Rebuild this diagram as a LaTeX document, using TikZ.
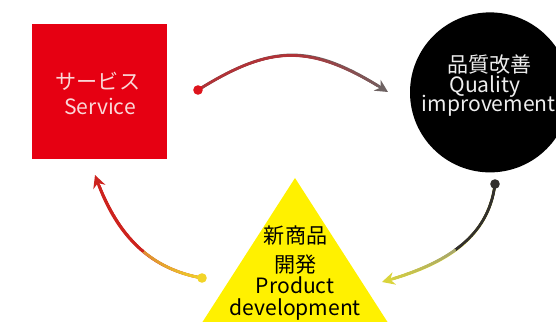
\documentclass[tikz,border=0pt]{standalone}
\usepackage{fontspec}
\setmainfont{Noto Sans CJK JP}
\usepackage{tikz}
\usetikzlibrary{arrows.meta,decorations.markings}
\definecolor{jpred}{RGB}{230,0,18}
\definecolor{jpyellow}{RGB}{255,241,0}
\definecolor{svctext}{RGB}{250,215,215}
\definecolor{qualtext}{RGB}{238,238,238}
\definecolor{arrred}{RGB}{222,20,28}
\definecolor{arrgray}{RGB}{110,98,98}
\definecolor{arrdark}{RGB}{50,48,45}
\definecolor{arrolive}{RGB}{165,165,110}
\definecolor{arrlime}{RGB}{218,212,60}
\definecolor{arryellow}{RGB}{242,212,40}
\definecolor{arrorange}{RGB}{222,140,50}
\definecolor{arrcrimson}{RGB}{205,35,30}
\tikzset{
  txt/.style={font=\fontsize{15}{18}\selectfont, inner sep=0pt},
  % line with colour running along it: start, mid-, mid+, end, split
  fade/.style n args={5}{line width=2pt, draw=#4, -{Stealth[length=9pt,width=9pt]},
    decoration={markings, mark=between positions 0 and 0.93 step 0.002 with {
      \pgfmathsetmacro\fadepos{(\pgfkeysvalueof{/pgf/decoration/mark info/sequence number}-1)*0.002}
      \ifdim\fadepos pt<#5pt
        \pgfmathsetmacro\fadepct{100-100*\fadepos/#5}\colorlet{fadecol}{#1!\fadepct!#2}
      \else
        \pgfmathsetmacro\fadepct{100-100*(\fadepos-#5)/(1-#5)}\colorlet{fadecol}{#3!\fadepct!#4}
      \fi
      \fill[fadecol] (0,0) circle (1pt);}},
    postaction=decorate}
}
\begin{document}
\begin{tikzpicture}
  \useasboundingbox (0,0) rectangle (13.9,8.05);
  \clip (0,0) rectangle (13.9,8.05);
  % shapes
  \node[fill=jpred, minimum size=3.375cm, inner sep=0pt] (svc) at (2.475,5.76) {};
  \node[circle, fill=black, minimum size=4cm, inner sep=0pt] (qual) at (12.25,5.74) {};
  \fill[jpyellow] (7.375,3.6) -- (10.33,-1) -- (4.42,-1) -- cycle;
  % labels
  \node[txt, svctext] (svcjp) at (2.45,6.01) {サービス};
  \node[txt, svctext] (svcen) at (2.5,5.39) {Service};
  \node[txt, qualtext] (qualjp) at (12.24,6.43) {品質改善};
  \node[txt, qualtext, anchor=base] (qualen) at (12.125,5.725) {Quality};
  \node[txt, qualtext, anchor=base] (qualen2) at (12.22,5.25) {improvement};
  \node[txt, black] (devjp) at (7.39,2.15) {新商品};
  \node[txt, black] (devjp2) at (7.4,1.44) {開発};
  \node[txt, black, align=center, anchor=south] (deven) at (7.38,0.03) {Product\\[-2pt]development};
  % arrow ends
  \coordinate (svcout) at (4.95,5.8);
  \coordinate (qualin) at (9.7,5.75);
  \coordinate (qualout) at (12.375,3.45);
  \coordinate (devin) at (9.55,1.0);
  \coordinate (devout) at (5.05,1.1);
  \coordinate (svcin) at (2.375,3.675);
  % arrows
  \draw[fade={arrred}{arrred!60!arrgray}{arrred!60!arrgray}{arrgray}{0.5}]
    (svcout) to[out=32, in=148, looseness=1.2] (qualin);
  \draw[fade={arrdark}{arrdark}{arrolive}{arrlime}{0.5}]
    (qualout) to[out=-97, in=16] (devin);
  \draw[fade={arryellow}{arrorange}{arrcrimson}{arrcrimson}{0.42}]
    (devout) to[out=170, in=-70] (svcin);
  % dots
  \fill[arrred] (svcout) circle (0.12);
  \fill[arrdark] (qualout) circle (0.12);
  \fill[arryellow] (devout) circle (0.12);
\end{tikzpicture}
\end{document}
